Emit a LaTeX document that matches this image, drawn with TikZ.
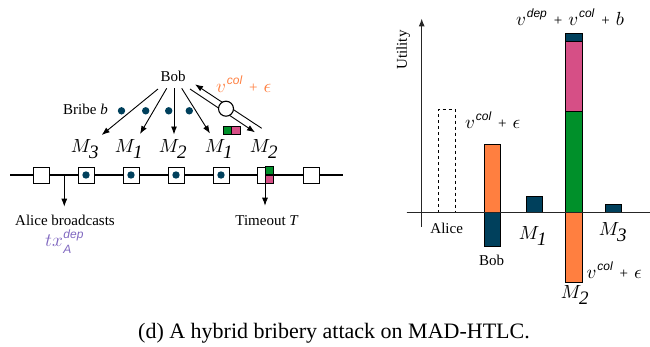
\documentclass[tikz,border=0pt]{standalone}
\usepackage{fontspec}
\setmainfont{Liberation Serif}
\setsansfont{Liberation Sans}
\DeclareFontFamily{OML}{cmm}{\skewchar\font'177}
\DeclareFontShape{OML}{cmm}{m}{it}{<->cmmi10}{}
\DeclareFontShape{OML}{cmm}{b}{it}{<->cmmib10}{}
\DeclareFontFamily{OMS}{cmsy}{\skewchar\font'60}
\DeclareFontShape{OMS}{cmsy}{m}{n}{<->cmsy10}{}
\usetikzlibrary{arrows.meta}
\definecolor{dkblue}{HTML}{00405C}
\definecolor{orng}{HTML}{FF7F40}
\definecolor{pnk}{HTML}{D64F86}
\definecolor{grn}{HTML}{00902A}
\definecolor{purp}{HTML}{8068C0}
\newcommand{\supfont}{\fontsize{12}{12}\selectfont\sffamily\itshape}
\newcommand{\vsup}[1]{$v$\kern0.8pt\raisebox{8pt}{\supfont #1}}
\newcommand{\pls}{\hspace{7pt}{\fontsize{15}{15}\selectfont +}\hspace{6pt}}
\newcommand{\mlab}[1]{$M_{\textit{#1}}$}
\tikzset{
  txt/.style={font=\fontsize{15}{18}\selectfont, inner sep=0pt, anchor=base},
  mth/.style={font=\fontsize{19}{22}\selectfont, inner sep=0pt, anchor=base},
  arr/.style={line width=0.9pt, -{Latex[length=8pt,width=6pt]}},
  tline/.style={line width=1.2pt},
  blk/.style={draw, line width=0.8pt, fill=white, minimum size=16pt, inner sep=0pt},
  dot/.style={circle, fill=dkblue, minimum size=7.4pt, inner sep=0pt},
  bar/.style={draw=black, line width=0.7pt},
  axisl/.style={line width=1.4pt, draw=black!85},
}
\begin{document}
\begin{tikzpicture}[x=1pt,y=-1pt]
\useasboundingbox (0,0) rectangle (650,346);

% ---------- left part ----------
\node[txt] (bob) at (173,81.7) {Bob};
\node[txt] (bribe) at (85.5,114.5) {Bribe \textit{b}};
\foreach \i/\x in {1/121.5,2/145.7,3/168.7,4/189.3}
  \node[dot] (bd\i) at (\x,110.8) {};

\node[mth] (m3) at (85,152.7) {\mlab{3}};
\node[mth] (m1a) at (129,152.7) {\mlab{1}};
\node[mth] (m2a) at (173,152.7) {\mlab{2}};
\node[mth] (m1b) at (219,152.7) {\mlab{1}};
\node[mth] (m2b) at (264,152.7) {\mlab{2}};

\coordinate (s1) at (158,89);
\coordinate (s2) at (166.7,88.3);
\coordinate (s3) at (174,88);
\coordinate (s4) at (181.7,88.3);
\coordinate (s5) at (190,89);
\coordinate (e1) at (101.7,135);
\coordinate (e2) at (140,134);
\coordinate (e3) at (174,134.5);
\coordinate (e4) at (210,133.5);
\coordinate (e5) at (255,132.3);
\coordinate (r0) at (261.7,128.3);
\coordinate (r1) at (195,84.3);

\draw[arr] (s1) -- (e1);
\draw[arr] (s2) -- (e2);
\draw[arr] (s3) -- (e3);
\draw[arr] (s4) -- (e4);
\draw[arr] (s5) -- (e5);
\draw[arr] (r0) -- (r1);
\node[circle, draw, line width=1.1pt, fill=white, minimum size=15pt, inner sep=0pt] (tx) at (226,108.7) {};
\node[mth, text=orng, anchor=base west] (vcol) at (216,92.3) {\vsup{col}\pls$\epsilon$};

\node[draw, line width=0.7pt, fill=grn, minimum width=8.3pt, minimum height=7.3pt, inner sep=0pt] (gp1) at (227.5,130.3) {};
\node[draw, line width=0.7pt, fill=pnk, minimum width=8.3pt, minimum height=7.3pt, inner sep=0pt] (gp2) at (235.8,130.3) {};

% timeline
\coordinate (tl0) at (10,175);
\coordinate (tl1) at (343,175);
\draw[tline] (tl0) -- (tl1);
\foreach \i/\x in {1/41,2/86,3/131,4/176,5/221,6/265,7/311}
  \node[blk] (box\i) at (\x,175) {};
\foreach \i in {2,3,4,5}
  \node[dot] (bx\i) at (box\i) {};
\node[draw, line width=0.7pt, fill=grn, minimum width=8pt, minimum height=8pt, inner sep=0pt, anchor=south west] (g6) at (box6.center) {};
\node[draw, line width=0.7pt, fill=pnk, minimum width=8pt, minimum height=8pt, inner sep=0pt, anchor=north west] (p6) at (box6.center) {};

\coordinate (ab) at (64.3,175);
\coordinate (abe) at (64.3,206.7);
\draw[arr] (ab) -- (abe);
\coordinate (toe) at (265,205.7);
\draw[arr] (box6.south) -- (toe);

\node[txt] (alice) at (65,225) {Alice broadcasts};
\node[mth, text=purp, anchor=base west] (txa) at (45,246) {$tx$\kern0.5pt\rlap{\raisebox{8pt}{\supfont dep}}\raisebox{-7pt}{\supfont A}};
\node[txt] (tout) at (267,225) {Timeout \textit{T}};

% ---------- right part ----------
\coordinate (xa0) at (406.7,212.7);
\coordinate (xa1) at (650,212.7);
\coordinate (ya0) at (421.7,226.7);
\coordinate (ya1) at (421.7,18.3);
\draw[axisl] (xa0) -- (xa1);
\draw[axisl, -{Latex[length=8pt,width=6pt]}] (ya0) -- (ya1);
\node[txt, rotate=90, anchor=center] (util) at (403.3,50) {Utility};

% bars
\draw[bar, dashed] (438.3,212.7) rectangle (455,109);
\draw[bar, fill=orng] (484,212.7) rectangle (500,144);
\draw[bar, fill=dkblue] (484,212.7) rectangle (500,246.7);
\draw[bar, fill=dkblue] (526,212.7) rectangle (542.7,196);
\draw[bar, fill=grn] (565.7,212.7) rectangle (582.3,111);
\draw[bar, fill=pnk] (565.7,111) rectangle (582.3,41.7);
\draw[bar, fill=dkblue] (565.7,41.7) rectangle (582.3,33.3);
\draw[bar, fill=orng] (565.7,212.7) rectangle (582.3,282.3);
\draw[bar, fill=dkblue] (605,212.7) rectangle (621.7,204.3);
\draw[axisl] (xa0) -- (xa1);

\node[txt] (lalice) at (446.7,233.3) {Alice};
\node[txt] (lbob) at (491.7,265) {Bob};
\node[mth] (lm1) at (533,239.3) {\mlab{1}};
\node[mth] (lm3) at (613,235) {\mlab{3}};
\node[mth] (lm2) at (575,298.3) {\mlab{2}};
\node[mth, anchor=base west] (lv1) at (465,128.3) {\vsup{col}\pls$\epsilon$};
\node[mth, anchor=base west] (lv2) at (586.5,278.3) {\vsup{col}\pls$\epsilon$};
\node[mth, anchor=base west] (lv3) at (516,25) {\vsup{dep}\pls\vsup{col}\pls$b$};

% caption
\node[font=\fontsize{22}{26}\selectfont, inner sep=0pt, anchor=base] (cap) at (334,338.5) {(d) A hybrid bribery attack on MAD-HTLC.};
\end{tikzpicture}
\end{document}
